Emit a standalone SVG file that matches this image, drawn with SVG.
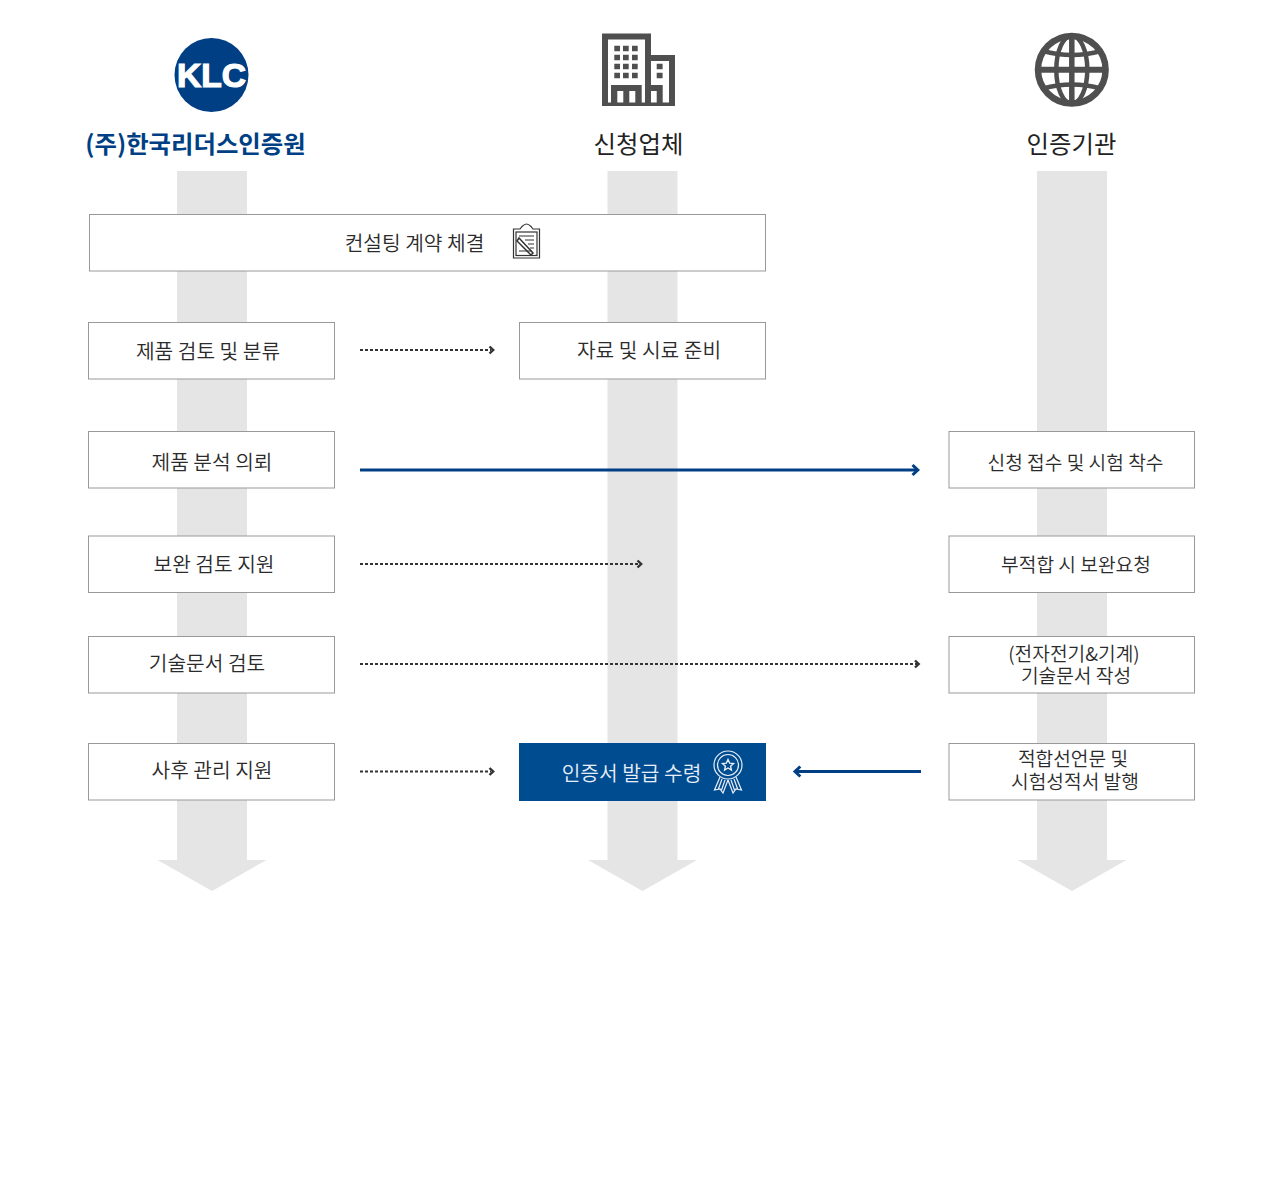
<svg xmlns="http://www.w3.org/2000/svg" width="1280" height="1200" viewBox="0 0 1280 1200">
<style>
text{font-family:"Noto Sans CJK KR","Noto Sans",sans-serif;font-size:20.3px;font-weight:350;fill:#2b2b2b;text-anchor:middle}
.r{font-size:19.2px}
.h{font-size:24.4px;font-weight:400;fill:#222}
.box{fill:#fff;stroke:#999;stroke-width:1}
.lane{fill:#e5e5e5}
.dot{fill:none;stroke:#333;stroke-width:2;stroke-dasharray:3 2}
.solid{fill:none;stroke:#003f84;stroke-width:3}
.hd1{fill:none;stroke:#333;stroke-width:2.400}
.hd2{fill:none;stroke:#003f84;stroke-width:3}
.ic{fill:#4f4f4f}
</style>
<defs>
<polygon id="lane" class="lane" points="-35,171 35,171 35,860 54.500,860 0,891 -54.500,860 -35,860"/>
</defs>
<g id="lanes">
<use href="#lane" x="212"/>
<use href="#lane" x="642.500"/>
<use href="#lane" x="1072"/>
</g>
<g id="head-klc">
<circle cx="211.500" cy="75" r="37" fill="#003f84"/>
<text x="211.500" y="86.500" textLength="69" lengthAdjust="spacingAndGlyphs" style="font-family:'Liberation Sans',sans-serif;font-size:33px;font-weight:700;fill:#fff;stroke:#fff;stroke-width:1.200">KLC</text>
<text class="h" x="195.500" y="153" style="fill:#003f84;font-weight:700">(주)한국리더스인증원</text>
</g>
<g id="head-applicant">
<path class="ic" fill-rule="evenodd" d="M602 33.500H651V55H675V106H602ZM608 39.500V102.500H611V85H641.700V102.500H645V39.500ZM617.300 91V102.500H623.300V91ZM629.300 91V102.500H635.300V91ZM651 61V85H662.700V102.500H669V61ZM651 91V102.500H656.700V91Z"/>
<path class="ic" d="M614.300 45.700h5.700v5.600h-5.700zM623 45.700h5.700v5.600h-5.700zM632 45.700h5.700v5.600h-5.700zM614.300 54.700h5.700v5.600h-5.700zM623 54.700h5.700v5.600h-5.700zM632 54.700h5.700v5.600h-5.700zM614.300 63.700h5.700v5.600h-5.700zM623 63.700h5.700v5.600h-5.700zM632 63.700h5.700v5.600h-5.700zM614.300 72.700h5.700v5.600h-5.700zM623 72.700h5.700v5.600h-5.700zM632 72.700h5.700v5.600h-5.700zM656.700 63.700h5.900v5.600h-5.900zM656.700 72.700h5.900v5.600h-5.900z"/>
<text class="h" x="638.500" y="153">신청업체</text>
</g>
<g id="head-cert">
<circle cx="1071.800" cy="69.700" r="33.800" fill="none" stroke="#4f4f4f" stroke-width="6.500"/>
<g fill="none" stroke="#4f4f4f" stroke-width="4.500">
<ellipse cx="1071.800" cy="69.700" rx="15.500" ry="34"/>
<path d="M1071.800 36V104" stroke-width="5.500"/>
<path d="M1038 69.700H1106" stroke-width="6"/>
<path d="M1043 51Q1072 59 1101 51M1043 88.500Q1072 80.500 1101 88.500"/>
</g>
<text class="h" x="1071.500" y="153">인증기관</text>
</g>
<g id="connectors">
<path class="dot" d="M360 350H491"/><path class="hd1" d="M489.500 346.500L493.200 350L489.500 353.500"/>
<path class="solid" d="M360 470H917"/><path class="hd2" d="M912.500 465L917.800 470L912.500 475"/>
<path class="dot" d="M360 564H639"/><path class="hd1" d="M637.500 560.500L641.200 564L637.500 567.500"/>
<path class="dot" d="M360 664H917"/><path class="hd1" d="M915 660.500L918.700 664L915 667.500"/>
<path class="dot" d="M360 771.500H491"/><path class="hd1" d="M489.500 768L493.200 771.500L489.500 775"/>
<path class="solid" d="M796 771.500H921"/><path class="hd2" d="M800.300 766.500L795 771.500L800.300 776.500"/>
</g>
<g id="n-contract">
<rect class="box" x="89.500" y="214.500" width="676" height="56.500"/>
<text x="414.500" y="251">컨설팅 계약 체결</text>
<g fill="none" stroke="#333" stroke-width="1.200">
<path d="M513.500 229H520L522 226.500C523.500 225 524.500 224 526.500 224C528.500 224 529.500 225 531 226.500L533 229H539.500V258H513.500Z"/>
<rect x="516" y="232" width="21" height="23.500"/>
<path d="M519 236H534M525 240H534M528 244H534M530 248H534M519 251H532"/>
<path d="M519 238L533 253L531 255L517 241Z" stroke-width="1.500"/>
</g>
</g>
<g id="n-review">
<rect class="box" x="88.500" y="322.500" width="246" height="56.500"/>
<text x="208" y="358.500">제품 검토 및 분류</text>
</g>
<g id="n-prepare">
<rect class="box" x="519.500" y="322.500" width="246" height="56.500"/>
<text x="649" y="358">자료 및 시료 준비</text>
</g>
<g id="n-request">
<rect class="box" x="88.500" y="431.500" width="246" height="56.500"/>
<text x="212" y="469.500">제품 분석 의뢰</text>
</g>
<g id="n-receive">
<rect class="box" x="949" y="431.500" width="245.500" height="56.500"/>
<text class="r" x="1075.500" y="469.500">신청 접수 및 시험 착수</text>
</g>
<g id="n-support">
<rect class="box" x="88.500" y="536" width="246" height="56.500"/>
<text x="214" y="571.500">보완 검토 지원</text>
</g>
<g id="n-supplement">
<rect class="box" x="949" y="536" width="245.500" height="56.500"/>
<text class="r" x="1076" y="571.500">부적합 시 보완요청</text>
</g>
<g id="n-docreview">
<rect class="box" x="88.500" y="636.500" width="246" height="56.500"/>
<text x="207" y="671">기술문서 검토</text>
</g>
<g id="n-docwrite">
<rect class="box" x="949" y="636.500" width="245.500" height="56.500"/>
<text class="r" x="1074" y="661">(전자전기&amp;기계)</text>
<text class="r" x="1076" y="683">기술문서 작성</text>
</g>
<g id="n-after">
<rect class="box" x="88.500" y="743.500" width="246" height="56.500"/>
<text x="212" y="777.500">사후 관리 지원</text>
</g>
<g id="n-issue">
<rect class="box" x="949" y="743.500" width="245.500" height="56.500"/>
<text class="r" x="1073" y="766">적합선언문 및</text>
<text class="r" x="1075" y="789">시험성적서 발행</text>
</g>
<g id="n-cert">
<rect x="519" y="743" width="247" height="58" fill="#004c91"/>
<text x="631.500" y="780.500" style="fill:#e8eef6">인증서 발급 수령</text>
<g fill="none" stroke="#e8eef6" stroke-width="1.200">
<circle cx="728" cy="765" r="14"/><circle cx="728" cy="765" r="10.500"/>
<path d="M728 759.500L729.700 763.200L733.500 763.600L730.600 766.200L731.400 770L728 768L724.600 770L725.400 766.200L722.500 763.600L726.300 763.200Z" stroke-width="1.400"/>
<path d="M720 777L714.500 790L720 789L723 793L728 780M736 777L741.500 790L736 789L733 793L728 780M722 779L718 790M725 780L721.500 790M734 779L738 790M731 780L734.500 790"/>
</g>
</g>
</svg>
